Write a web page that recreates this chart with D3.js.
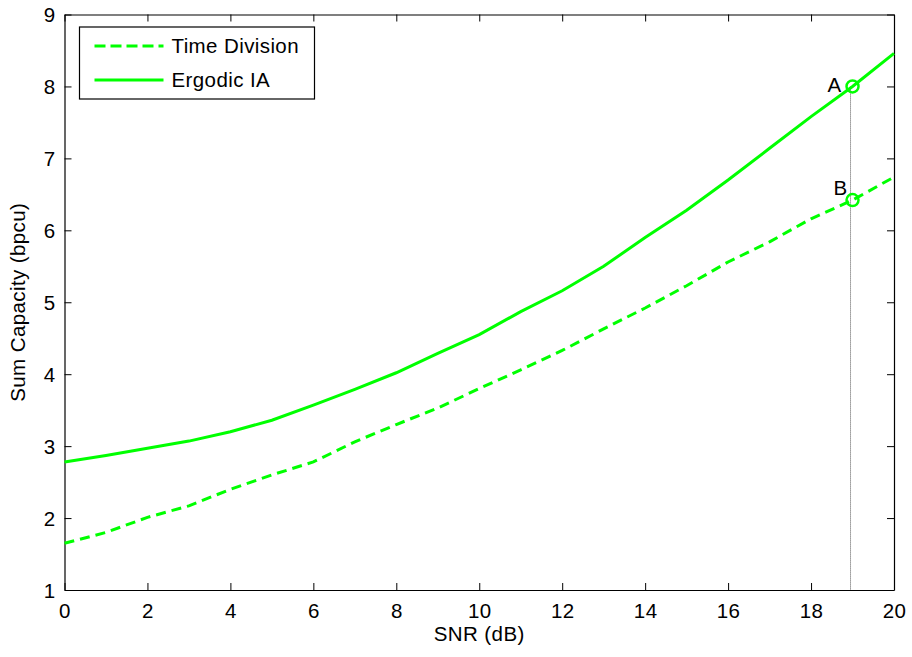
<!DOCTYPE html>
<html>
<head>
<meta charset="utf-8">
<script src="https://cdn.jsdelivr.net/npm/d3@7"></script>
<style>
  body { margin: 0; background: #fff; }
  text { font-family: Arial, "Liberation Sans", sans-serif; letter-spacing: 0.4px; }
</style>
</head>
<body>
<div class="svg-container"></div>
<script>
// SNR in dB, one point per dB
const snr = [0, 1, 2, 3, 4, 5, 6, 7, 8, 9, 10, 11, 12, 13, 14, 15, 16, 17, 18, 19, 20];
// Sum capacity (bpcu)
const ergodicIA = [2.78, 2.87, 2.97, 3.07, 3.20, 3.36, 3.57, 3.79, 4.02, 4.29, 4.55, 4.87, 5.16, 5.50, 5.90, 6.28, 6.70, 7.14, 7.58, 8.00, 8.46];
const timeDivision = [1.65, 1.80, 2.01, 2.17, 2.40, 2.60, 2.78, 3.06, 3.30, 3.53, 3.80, 4.06, 4.33, 4.63, 4.92, 5.23, 5.56, 5.84, 6.16, 6.42, 6.74];
const xTicks = [0, 2, 4, 6, 8, 10, 12, 14, 16, 18, 20];
const yTicks = [1, 2, 3, 4, 5, 6, 7, 8, 9];
const legendLabels = ['Time Division', 'Ergodic IA'];
// marked points
const markX = 19;
const markLabels = ['A', 'B'];

const width = 912;
const height = 657;
const margin = { top: 14.5, right: 18, bottom: 67, left: 64.5 };
const green = '#00ff00';
const fontSize = 20.5;

const svg = d3.select('.svg-container')
  .append('svg')
  .attr('width', width)
  .attr('height', height);

const x = d3.scaleLinear().domain([0, 20]).range([margin.left, width - margin.right]);
const y = d3.scaleLinear().domain([1, 9]).range([height - margin.bottom, margin.top]);

// axes (ticks inside, mirrored on top/right like matlab box)
const tickLen = 7;
const axisBottom = svg.append('g')
  .attr('transform', `translate(0,${y(1)})`)
  .call(d3.axisBottom(x).tickValues(xTicks).tickSizeInner(-tickLen).tickSizeOuter(0).tickPadding(11));
const axisTop = svg.append('g')
  .attr('transform', `translate(0,${y(9)})`)
  .call(d3.axisTop(x).tickValues(xTicks).tickSizeInner(-tickLen).tickSizeOuter(0).tickFormat(''));
const axisLeft = svg.append('g')
  .attr('transform', `translate(${x(0)},0)`)
  .call(d3.axisLeft(y).tickValues(yTicks).tickSizeInner(-tickLen).tickSizeOuter(0).tickPadding(9));
const axisRight = svg.append('g')
  .attr('transform', `translate(${x(20)},0)`)
  .call(d3.axisRight(y).tickValues(yTicks).tickSizeInner(-tickLen).tickSizeOuter(0).tickFormat(''));

[axisBottom, axisTop, axisLeft, axisRight].forEach(g => {
  g.select('.domain').attr('stroke', '#000').attr('stroke-width', 1.2);
  g.selectAll('.tick line').attr('stroke', '#000');
  g.selectAll('.tick text')
    .attr('fill', '#000')
    .style('font-size', fontSize + 'px')
    .style('font-family', 'Arial, "Liberation Sans", sans-serif');
});
axisBottom.selectAll('.tick text').attr('dy', '0.85em');
axisLeft.selectAll('.tick text').attr('dy', '0.35em');

// vertical dotted line at the marked SNR
svg.append('line')
  .attr('x1', x(markX) - 2)
  .attr('x2', x(markX) - 2)
  .attr('y1', y(ergodicIA[snr.indexOf(markX)]))
  .attr('y2', y(1))
  .attr('stroke', '#555')
  .attr('stroke-width', 1)
  .attr('stroke-dasharray', '1,1');

// curves
const line = d3.line()
  .x((d, i) => x(snr[i]))
  .y(d => y(d));

svg.append('path')
  .datum(timeDivision)
  .attr('d', line)
  .attr('fill', 'none')
  .attr('stroke', green)
  .attr('stroke-width', 3)
  .attr('stroke-dasharray', '10,6');

svg.append('path')
  .datum(ergodicIA)
  .attr('d', line)
  .attr('fill', 'none')
  .attr('stroke', green)
  .attr('stroke-width', 3);

// circle markers and labels
const marks = [ergodicIA[snr.indexOf(markX)], timeDivision[snr.indexOf(markX)]];
svg.selectAll('.mark')
  .data(marks)
  .enter()
  .append('circle')
  .attr('class', 'mark')
  .attr('cx', x(markX))
  .attr('cy', d => y(d))
  .attr('r', 6)
  .attr('fill', 'none')
  .attr('stroke', green)
  .attr('stroke-width', 2.5);

svg.selectAll('.mark-label')
  .data(marks)
  .enter()
  .append('text')
  .attr('class', 'mark-label')
  .attr('x', (d, i) => x(markX) + (i === 0 ? -11 : -5))
  .attr('y', (d, i) => y(d) + (i === 0 ? 6 : -5))
  .attr('text-anchor', 'end')
  .style('font-size', fontSize + 'px')
  .text((d, i) => markLabels[i]);

// axis titles
svg.append('text')
  .attr('x', (x(0) + x(20)) / 2)
  .attr('y', 641)
  .attr('text-anchor', 'middle')
  .style('font-size', fontSize + 'px')
  .text('SNR (dB)');

svg.append('text')
  .attr('transform', `translate(25,${(y(1) + y(9)) / 2}) rotate(-90)`)
  .attr('text-anchor', 'middle')
  .style('font-size', fontSize + 'px')
  .text('Sum Capacity (bpcu)');

// legend
const legend = svg.append('g').attr('transform', 'translate(79.5,27)');
legend.append('rect')
  .attr('width', 235)
  .attr('height', 72)
  .attr('fill', '#fff')
  .attr('stroke', '#000')
  .attr('stroke-width', 1.2);

const legendItems = legend.selectAll('.item')
  .data(legendLabels)
  .enter()
  .append('g')
  .attr('transform', (d, i) => `translate(0,${19 + i * 34})`);

legendItems.append('line')
  .attr('x1', 15)
  .attr('x2', 84)
  .attr('stroke', green)
  .attr('stroke-width', 3)
  .attr('stroke-dasharray', (d, i) => i === 0 ? '11,5' : null);

legendItems.append('text')
  .attr('x', 92)
  .attr('dy', '0.35em')
  .style('font-size', fontSize + 'px')
  .text(d => d);
</script>
</body>
</html>
